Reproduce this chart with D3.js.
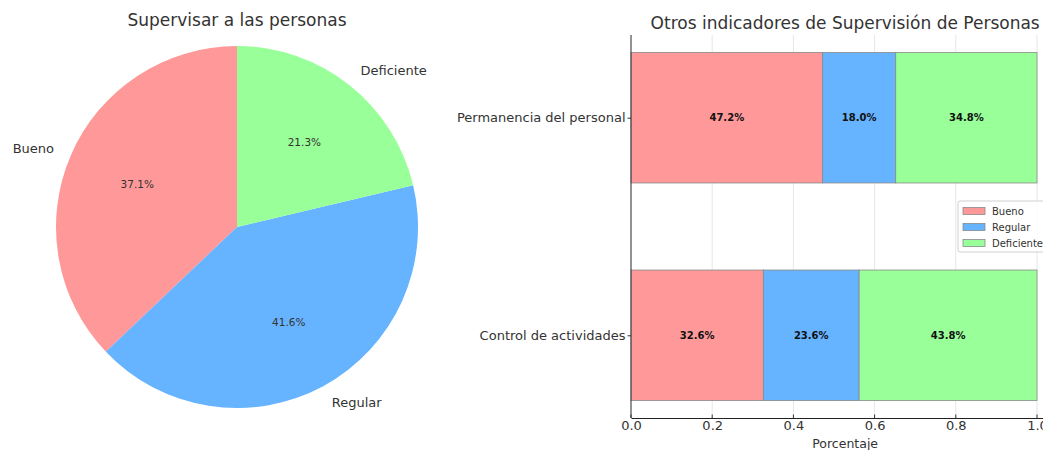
<!DOCTYPE html>
<html>
<head>
<meta charset="utf-8">
<script src="https://cdn.jsdelivr.net/npm/d3@7"></script>
<style>
  html, body { margin: 0; padding: 0; background: #fff; }
  svg { display: block; font-family: "DejaVu Sans", sans-serif; }
</style>
</head>
<body>
<svg id="chart" width="1043" height="450"></svg>
<script>
// ---- Data ----
const pieCategories = ["Bueno", "Regular", "Deficiente"];
const pieValues = [37.1, 41.6, 21.3];
const colors = ["#ff9999", "#66b3ff", "#99ff99"];

const barCategories = ["Permanencia del personal", "Control de actividades"];
const barIndex = [1, 0];
const buenoValues = [0.472, 0.326];
const regularValues = [0.180, 0.236];
const deficienteValues = [0.348, 0.438];
const seriesNames = ["Bueno", "Regular", "Deficiente"];
const xTicks = [0.0, 0.2, 0.4, 0.6, 0.8, 1.0];

const svg = d3.select("#chart");
const textColor = "#333";

// ---- Pie ----
const cx = 237, cy = 227, R = 181;
const pieG = svg.append("g").attr("transform", `translate(${cx},${cy})`);
const pie = d3.pie().sort(null).startAngle(0).endAngle(-2 * Math.PI);
const arcs = pie(pieValues);
const arc = d3.arc().innerRadius(0).outerRadius(R);
pieG.selectAll("path.slice").data(arcs).enter().append("path")
  .attr("class", "slice")
  .attr("d", arc)
  .attr("fill", (d, i) => colors[i]);

const total = d3.sum(pieValues);
arcs.forEach((d, i) => {
  const a = (d.startAngle + d.endAngle) / 2;
  const lx = Math.sin(a) * R * 1.1, ly = -Math.cos(a) * R * 1.1;
  pieG.append("text")
    .attr("x", lx).attr("y", ly)
    .attr("dy", "0.35em")
    .attr("text-anchor", lx < 0 ? "end" : "start")
    .attr("font-size", 13)
    .attr("fill", textColor)
    .text(pieCategories[i]);
  const px = Math.sin(a) * R * 0.6, py = -Math.cos(a) * R * 0.6;
  pieG.append("text")
    .attr("x", px).attr("y", py)
    .attr("dy", "0.35em")
    .attr("text-anchor", "middle")
    .attr("font-size", 10.5)
    .attr("fill", textColor)
    .text((pieValues[i] / total * 100).toFixed(1) + "%");
});
svg.append("text")
  .attr("x", cx).attr("y", 26)
  .attr("text-anchor", "middle")
  .attr("font-size", 17)
  .attr("fill", textColor)
  .text("Supervisar a las personas");

// ---- Stacked horizontal bar ----
const x0 = 631, xMaxVal = 1.055;
const x = d3.scaleLinear().domain([0, xMaxVal]).range([x0, x0 + 406 * xMaxVal]);
const y = d3.scaleLinear().domain([-0.38, 1.38]).range([418, 35]);
const barH = 0.6;

const barG = svg.append("g");
// grid
barG.selectAll("line.grid").data(xTicks).enter().append("line")
  .attr("x1", d => x(d)).attr("x2", d => x(d))
  .attr("y1", y(1.38)).attr("y2", y(-0.38))
  .attr("stroke", "#e6e6e6").attr("stroke-width", 1);

const seriesData = [buenoValues, regularValues, deficienteValues];
barCategories.forEach((cat, ci) => {
  let left = 0;
  seriesData.forEach((vals, si) => {
    const v = vals[ci];
    const yc = barIndex[ci];
    barG.append("rect")
      .attr("x", x(left))
      .attr("y", y(yc + barH / 2))
      .attr("width", x(left + v) - x(left))
      .attr("height", y(yc - barH / 2) - y(yc + barH / 2))
      .attr("fill", colors[si])
      .attr("stroke", "#8a8a8a")
      .attr("stroke-width", 0.8);
    barG.append("text")
      .attr("x", x(left + v / 2))
      .attr("y", y(yc))
      .attr("dy", "0.35em")
      .attr("text-anchor", "middle")
      .attr("font-size", 10)
      .attr("font-weight", "bold")
      .attr("fill", "#111")
      .text((v * 100).toFixed(1) + "%");
    left += v;
  });
});

// axes
const xAxis = d3.axisBottom(x).tickValues(xTicks).tickFormat(d3.format(".1f")).tickSize(0).tickPadding(3);
const xg = svg.append("g").attr("transform", `translate(0,${y(-0.38)})`).call(xAxis);
xg.select(".domain").attr("stroke", "#222").attr("stroke-width", 1.2);
xg.selectAll("text").attr("font-size", 13).attr("fill", textColor).attr("font-family", "DejaVu Sans, sans-serif");
// inward x ticks
svg.selectAll("line.xtick").data(xTicks).enter().append("line")
  .attr("x1", d => x(d)).attr("x2", d => x(d))
  .attr("y1", y(-0.38)).attr("y2", y(-0.38) - 3.5)
  .attr("stroke", "#333");

const yAxis = d3.axisLeft(y).tickValues(barIndex).tickFormat((d, i) => barCategories[i]).tickSize(3.5).tickPadding(2);
const yg = svg.append("g").attr("transform", `translate(${x0},0)`).call(yAxis);
yg.select(".domain").attr("stroke", "#333").attr("stroke-width", 1).attr("d", `M0,${y(1.38)}V${y(-0.38)}`);
yg.selectAll("line").attr("stroke", "#333");
yg.selectAll("text").attr("font-size", 13).attr("fill", textColor).attr("font-family", "DejaVu Sans, sans-serif");

svg.append("text")
  .attr("x", (x(0) + x(xMaxVal)) / 2).attr("y", 448)
  .attr("text-anchor", "middle")
  .attr("font-size", 12.5)
  .attr("fill", textColor)
  .text("Porcentaje");

svg.append("text")
  .attr("x", (x(0) + x(xMaxVal)) / 2).attr("y", 29)
  .attr("text-anchor", "middle")
  .attr("font-size", 17)
  .attr("fill", textColor)
  .text("Otros indicadores de Supervisión de Personas");

// legend
const lg = svg.append("g").attr("transform", "translate(958,201)");
lg.append("rect").attr("x", 0).attr("y", 0).attr("width", 96).attr("height", 51)
  .attr("rx", 2).attr("fill", "#fff").attr("fill-opacity", 0.85)
  .attr("stroke", "#d0d0d0").attr("stroke-width", 1);
seriesNames.forEach((n, i) => {
  const yy = 10 + i * 16;
  lg.append("rect").attr("x", 5).attr("y", yy - 3.5).attr("width", 22).attr("height", 7)
    .attr("fill", colors[i]).attr("stroke", "#8a8a8a").attr("stroke-width", 0.8);
  lg.append("text").attr("x", 34).attr("y", yy).attr("dy", "0.35em")
    .attr("font-size", 10).attr("fill", textColor).text(n);
});
</script>
</body>
</html>
